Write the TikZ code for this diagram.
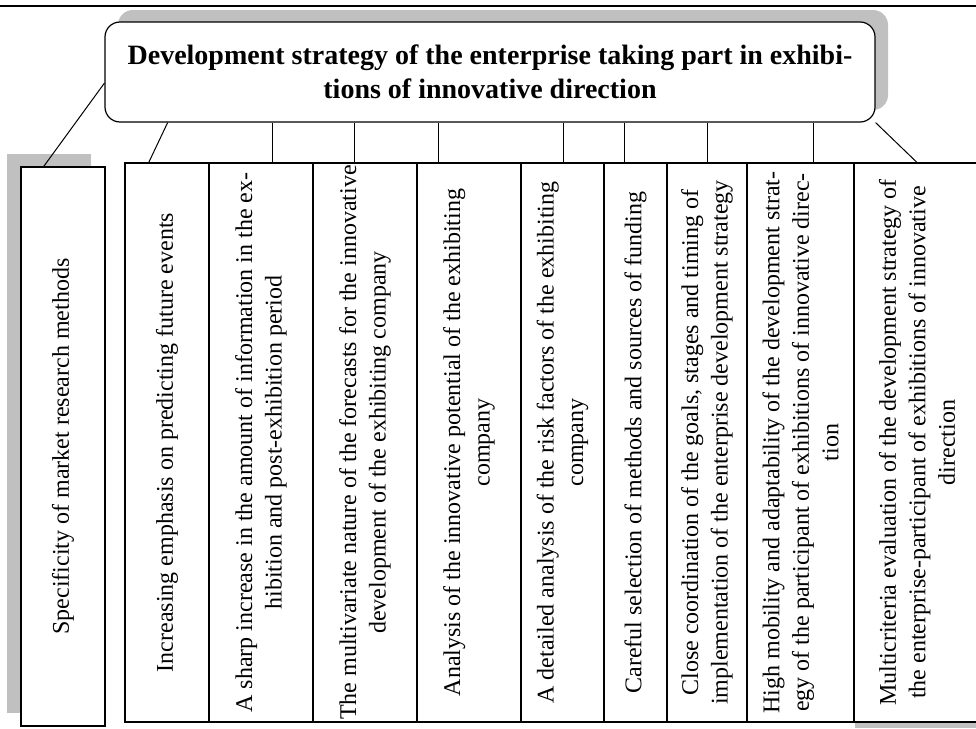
\documentclass[tikz,border=0pt]{standalone}
\usepackage{fontspec}
\setmainfont{Liberation Serif}
\usetikzlibrary{calc}
\definecolor{shadowgray}{RGB}{192,192,192}
\begin{document}
\begin{tikzpicture}[x=1pt,y=-1pt,
  box/.style={draw, line width=1.2pt, inner sep=0pt, fill=white},
  colbox/.style={box, minimum height=559pt},
  coltext/.style={rotate=90, align=center, font=\fontsize{24}{29.5}\selectfont, inner sep=0pt},
  link/.style={line width=1pt},
  shade/.style={fill=shadowgray}]
\useasboundingbox (0,0) rectangle (976,728);
\clip (0,0) rectangle (976,728);
% top rule
\draw[line width=2.5pt] (0,6) -- (976,6);
% title
\fill[shade, rounded corners=15pt] (118,10) rectangle (888,110);
\node[box, rounded corners=15pt, minimum width=770pt, minimum height=100pt,
      align=center, font=\bfseries\fontsize{28}{34}\selectfont] (t) at (490,72)
  {Development strategy of the enterprise taking part in exhibi-\\tions of innovative direction};
% left box
\fill[shade] (7,154) rectangle (91,713);
\node[colbox, minimum width=84pt] (L) at (63,446.5) {};
\node[coltext] (Lt) at (L.center) {Specificity of market research methods};
% big box columns
\fill[shade] (855,723) rectangle (976,728);
\node[colbox, minimum width=84pt]  (c1) at (167,442.5) {};
\node[colbox, minimum width=104pt] (c2) at (261,442.5) {};
\node[colbox, minimum width=104pt] (c3) at (365,442.5) {};
\node[colbox, minimum width=104pt] (c4) at (469,442.5) {};
\node[colbox, minimum width=83pt]  (c5) at (562.5,442.5) {};
\node[colbox, minimum width=63pt]  (c6) at (635.5,442.5) {};
\node[colbox, minimum width=80pt]  (c7) at (707,442.5) {};
\node[colbox, minimum width=107pt] (c8) at (800.5,442.5) {};
\node[colbox, minimum width=136pt] (c9) at (922,442.5) {};
\node[coltext] (t1) at (c1.center) {Increasing emphasis on predicting future events};
\node[coltext] (t2) at (c2.center) {A sharp increase in the amount of information in the ex-\\hibition and post-exhibition period};
\node[coltext] (t3) at (c3.center) {The multivariate nature of the forecasts for the innovative\\development of the exhibiting company};
\node[coltext] (t4) at (c4.center) {Analysis of the innovative potential of the exhibiting\\company};
\node[coltext] (t5) at (c5.center) {A detailed analysis of the risk factors of the exhibiting\\company};
\node[coltext] (t6) at (c6.center) {Careful selection of methods and sources of funding};
\node[coltext] (t7) at (c7.center) {Close coordination of the goals, stages and timing of\\implementation of the enterprise development strategy};
\node[coltext] (t8) at (c8.center) {High mobility and adaptability of the development strat-\\egy of the participant of exhibitions of innovative direc-\\tion};
\node[coltext] (t9) at ($(c9.center)+(-5,0)$) {Multicriteria evaluation of the development strategy of\\the enterprise-participant of exhibitions of innovative\\direction};
% connectors
\coordinate (k1) at ($(c1.north west)!0.286!(c1.north east)$);
\coordinate (s1) at ($(t.south west)!0.082!(t.south east)$);
\draw[link] (s1) -- (k1);
\coordinate (kL) at ($(L.north west)!0.274!(L.north east)$);
\coordinate (sL) at ($(t.north west)!0.61!(t.south west)$);
\draw[link] (sL) -- (kL);
\coordinate (k9) at ($(c9.north west)!0.463!(c9.north east)$);
\draw[link] (t.south east) -- (k9);
\foreach \c/\f in {c2/0.606, c3/0.40, c4/0.21, c5/0.506, c6/0.333, c7/0.51, c8/0.617}{
  \coordinate (k) at ($(\c.north west)!\f!(\c.north east)$);
  \draw[link] (k |- t.south) -- (k);
}
\end{tikzpicture}
\end{document}
